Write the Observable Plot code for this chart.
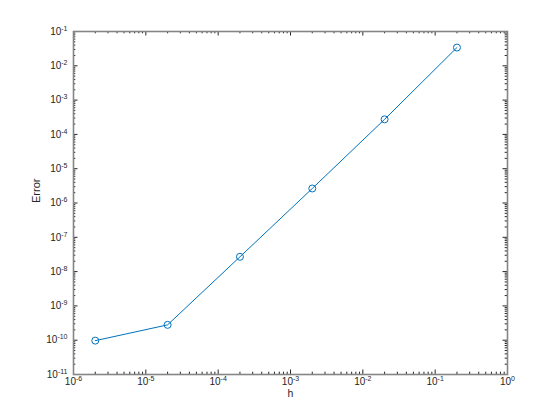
<!DOCTYPE html>
<html>
<head>
<meta charset="utf-8">
<script src="https://cdn.jsdelivr.net/npm/d3@7"></script>
<script src="https://cdn.jsdelivr.net/npm/@observablehq/plot@0.6"></script>
<style>
  html, body { margin: 0; padding: 0; background: #fff; }
  #chart { width: 560px; height: 420px; }
</style>
</head>
<body>
<div id="chart"></div>
<script>
// Data
const hValues = [2e-6, 2e-5, 2e-4, 2e-3, 2e-2, 2e-1];
const errValues = [9.7e-11, 2.8e-10, 2.7e-8, 2.65e-6, 2.75e-4, 3.4e-2];
const xMajorExps = [-6, -5, -4, -3, -2, -1, 0];
const yMajorExps = [-11, -10, -9, -8, -7, -6, -5, -4, -3, -2, -1];
const xLabel = "h";
const yLabel = "Error";

const data = hValues.map((h, i) => ({h, err: errValues[i]}));
const xMajor = xMajorExps.map(e => Math.pow(10, e));
const yMajor = yMajorExps.map(e => Math.pow(10, e));
const minorOf = exps => exps.slice(0, -1).flatMap(e => d3.range(2, 10).map(k => k * Math.pow(10, e)));
const xMinor = minorOf(xMajorExps);
const yMinor = minorOf(yMajorExps);

const W = 560, H = 420;
const mL = 73, mR = 53, mT = 31, mB = 46;
const pw = W - mL - mR, ph = H - mT - mB;
const axisColor = "#262626";
const frameColor = "#858585";
const blue = "#0072BD";
const majLen = 4.5, minLen = 2.3;

const chart = Plot.plot({
  width: W,
  height: H,
  marginLeft: mL,
  marginRight: mR,
  marginTop: mT,
  marginBottom: mB,
  style: {fontFamily: "'Liberation Sans', Arial, Helvetica, sans-serif", fontSize: "10px", background: "#fff", color: axisColor},
  x: {type: "log", domain: [1e-6, 1], axis: null},
  y: {type: "log", domain: [1e-11, 1e-1], axis: null},
  marks: [
    // inward tick marks on all four sides
    Plot.ruleX(xMajor, {x: d => d, stroke: axisColor, insetTop: ph - majLen}),
    Plot.ruleX(xMajor, {x: d => d, stroke: axisColor, insetBottom: ph - majLen}),
    Plot.ruleX(xMinor, {x: d => d, stroke: axisColor, insetTop: ph - minLen}),
    Plot.ruleX(xMinor, {x: d => d, stroke: axisColor, insetBottom: ph - minLen}),
    Plot.ruleY(yMajor, {y: d => d, stroke: axisColor, insetRight: pw - majLen}),
    Plot.ruleY(yMajor, {y: d => d, stroke: axisColor, insetLeft: pw - majLen}),
    Plot.ruleY(yMinor, {y: d => d, stroke: axisColor, insetRight: pw - minLen}),
    Plot.ruleY(yMinor, {y: d => d, stroke: axisColor, insetLeft: pw - minLen}),
    Plot.frame({stroke: frameColor, strokeWidth: 1.6}),
    // tick labels
    Plot.text(xMajorExps, {x: e => Math.pow(10, e), text: e => "10^" + e, frameAnchor: "bottom", dy: 10.5, fill: axisColor}),
    Plot.text(yMajorExps, {y: e => Math.pow(10, e), text: e => "10^" + e, frameAnchor: "left", dx: -6, textAnchor: "end", fill: axisColor}),
    // axis labels
    Plot.text([xLabel], {text: d => d, frameAnchor: "bottom", dy: 22.5, fill: axisColor, fontSize: 10.5}),
    Plot.text([yLabel], {text: d => d, frameAnchor: "left", dx: -37, rotate: -90, fill: axisColor, fontSize: 11}),
    // data
    Plot.line(data, {x: "h", y: "err", stroke: blue, strokeWidth: 1}),
    Plot.dot(data, {x: "h", y: "err", r: 3.5, stroke: blue, fill: "none", strokeWidth: 1})
  ]
});

// render exponents as superscripts
d3.select(chart).selectAll("text").each(function() {
  const t = d3.select(this);
  const m = /^10\^(-?\d+)$/.exec(t.text());
  if (!m) return;
  t.text("10");
  t.append("tspan").attr("dy", "-4").attr("font-size", "7px").text(m[1]);
});

document.getElementById("chart").appendChild(chart);
</script>
</body>
</html>
